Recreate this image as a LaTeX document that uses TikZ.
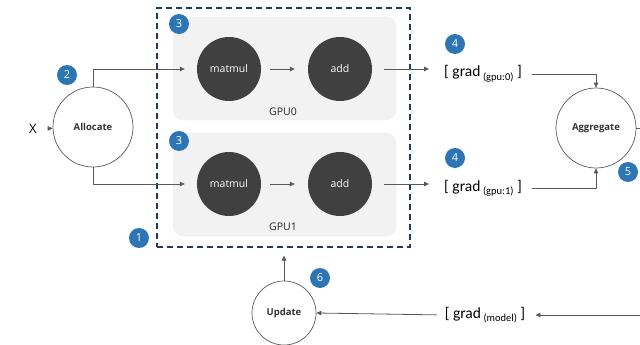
\documentclass[tikz,border=0pt]{standalone}
\usepackage{fontspec}
\setmainfont{Open Sans}
\newfontfamily\gradfont{Carlito}
\usetikzlibrary{arrows.meta}

\definecolor{linegray}{HTML}{595959}
\definecolor{opfill}{HTML}{404040}
\definecolor{gpufill}{HTML}{F2F2F2}
\definecolor{badgeblue}{HTML}{2E75B6}
\definecolor{navy}{HTML}{203864}

\newcommand\gradof[1]{{\gradfont\fontsize{15.5}{17}\selectfont[ grad\,\raisebox{-3.5pt}{\fontsize{10.5}{12}\selectfont(#1)} ]}}

\begin{document}
\begin{tikzpicture}[x=1pt, y=-1pt,
  flow/.style={draw=linegray, line width=0.8pt, -{Triangle[length=5pt,width=4.5pt]}},
  stage/.style={circle, draw=linegray, line width=0.7pt, minimum size=80pt, inner sep=0pt,
    text=black!80, font=\fontsize{9.5}{11}\selectfont\bfseries},
  op/.style={circle, fill=opfill, minimum size=64pt, inner sep=0pt, text=white,
    font=\fontsize{10.5}{12}\selectfont},
  gpubox/.style={rounded corners=10pt, fill=gpufill, draw=black!6,
    minimum width=223pt, minimum height=103pt},
  devlabel/.style={text=black!85, font=\fontsize{10.5}{12}\selectfont},
  badge/.style={circle, fill=badgeblue, minimum size=20pt, inner sep=0pt, text=white,
    font=\fontsize{11}{12}\selectfont},
  gradtext/.style={inner sep=0pt, text height=11pt, text depth=5pt}]
\useasboundingbox (0,0) rectangle (640,345);

% devices
\node [gpubox] (gpu0) at (284.5,68.5) {};
\node [gpubox] (gpu1) at (284.5,184.5) {};
\node [draw=navy, dash pattern=on 6pt off 4pt, line width=1.3pt,
  minimum width=253pt, minimum height=239pt] (dp) at (283.5,127.5) {};
\node [devlabel] (lbl0) at (283,112) {GPU0};
\node [devlabel] (lbl1) at (283,227) {GPU1};

\node [op] (mm0) at (229,69) {matmul};
\node [op] (add0) at (340,69) {add};
\node [op] (mm1) at (229,184) {matmul};
\node [op] (add1) at (340,184) {add};

% stages
\node [font=\fontsize{13}{14}\selectfont] (x) at (33,129) {X};
\node [stage] (alloc) at (93,127) {Allocate};
\node [stage] (agg) at (596,128) {Aggregate};
\node [stage, minimum size=64pt] (upd) at (284,313) {Update};

\node [gradtext] (g0) at (483,74) {\gradof{gpu:0}};
\node [gradtext] (g1) at (483,188) {\gradof{gpu:1}};
\node [gradtext] (gm) at (485,315) {\gradof{model}};
\coordinate (edge) at (670,128);

% arrows
\draw [flow, shorten <=8pt] (x) -- (alloc);
\draw [flow, shorten >=12pt] (alloc.north) |- (mm0.west);
\draw [flow, shorten >=12pt] (alloc.south) |- (mm1.west);
\draw [flow, shorten <=9pt, shorten >=13pt] (mm0) -- (add0);
\draw [flow, shorten <=9pt, shorten >=13pt] (mm1) -- (add1);
\draw [flow, shorten <=12pt, shorten >=15pt] (add0.east) -- (g0.west |- add0.east);
\draw [flow, shorten <=12pt, shorten >=15pt] (add1.east) -- (g1.west |- add1.east);
\draw [flow, shorten <=10pt] (g0.east) -| (agg.north);
\draw [flow, shorten <=10pt] (g1.east) -| (agg.south);
\draw [flow, shorten >=10pt] (agg.east) -- (edge) |- (gm.east);
\draw [flow, shorten <=8pt] (gm.west) -- (upd.east);
\draw [flow, shorten >=8pt] (upd.north) -- (upd |- dp.south);

% step numbers
\node [badge] (b1) at (139,238) {1};
\node [badge] (b2) at (67,75) {2};
\node [badge] (b3a) at (179,24) {3};
\node [badge] (b3b) at (179,141) {3};
\node [badge] (b4a) at (455,44) {4};
\node [badge] (b4b) at (455,158) {4};
\node [badge] (b5) at (628,172) {5};
\node [badge] (b6) at (320,278) {6};
\end{tikzpicture}
\end{document}
